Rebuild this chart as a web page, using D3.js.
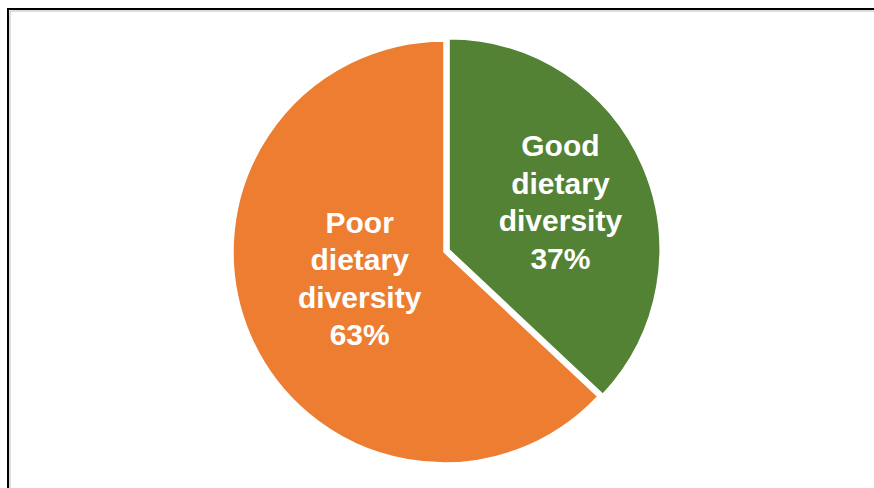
<!DOCTYPE html>
<html>
<head>
<meta charset="utf-8">
<script src="https://cdn.jsdelivr.net/npm/d3@7"></script>
<style>
  html, body { margin: 0; padding: 0; background: #fff; }
  svg { display: block; }
</style>
</head>
<body>
<div id="chart"></div>
<script>
// data
var categories = ["Good dietary diversity", "Poor dietary diversity"];
var labelLines = [["Good", "dietary", "diversity"], ["Poor", "dietary", "diversity"]];
var values = [37, 63];
var colors = ["#548235", "#ED7D31"];

var width = 874, height = 488;
var cx = 444, cy = 252, radius = 211;
var explode = [5.5, 0];
// small nudges, the label placement is not the plain centroid
var labelK = [0.575, 0.42];
var labelNudge = [[0, 0], [-3, -9]];

var svg = d3.select("#chart").append("svg")
  .attr("width", width)
  .attr("height", height);

// chart area border (runs off the right and bottom of the picture)
svg.append("path")
  .attr("d", "M8," + (height + 5) + "V9H" + (width + 5))
  .attr("fill", "none")
  .attr("stroke", "#000")
  .attr("stroke-width", 2);
svg.append("path")
  .attr("d", "M10," + (height + 5) + "V11H" + (width + 5))
  .attr("fill", "none")
  .attr("stroke", "#bbb")
  .attr("stroke-width", 1);

var pie = d3.pie().sort(null).value(function(d) { return d; });
var arcs = pie(values);

var arc = d3.arc().innerRadius(0).outerRadius(radius);

var g = svg.append("g").attr("transform", "translate(" + cx + "," + cy + ")");

function offset(d, i) {
  var mid = (d.startAngle + d.endAngle) / 2;
  return [Math.sin(mid) * explode[i], -Math.cos(mid) * explode[i]];
}

g.selectAll("path.slice")
  .data(arcs)
  .enter().append("path")
  .attr("class", "slice")
  .attr("transform", function(d, i) {
    var o = offset(d, i);
    return "translate(" + o[0] + "," + o[1] + ")";
  })
  .attr("d", arc)
  .attr("fill", function(d, i) { return colors[i]; })
  .attr("stroke", "#fff")
  .attr("stroke-width", 1.5)
  .attr("stroke-linejoin", "round");

var fontSize = 30, lineH = 37.5;

var label = g.selectAll("text.lbl")
  .data(arcs)
  .enter().append("text")
  .attr("class", "lbl")
  .attr("text-anchor", "middle")
  .attr("fill", "#fff")
  .attr("font-family", "Liberation Sans, Arial, sans-serif")
  .attr("font-weight", "bold")
  .attr("font-size", fontSize)
  .attr("transform", function(d, i) {
    var o = offset(d, i);
    var la = d3.arc().innerRadius(radius * labelK[i]).outerRadius(radius * labelK[i]);
    var c = la.centroid(d);
    return "translate(" + (c[0] + o[0] + labelNudge[i][0]) + "," + (c[1] + o[1] + labelNudge[i][1]) + ")";
  });

label.each(function(d, i) {
  var lines = labelLines[i].concat([d.data + "%"]);
  var t = d3.select(this);
  var top = -((lines.length - 1) * lineH) / 2 + fontSize * 0.36;
  lines.forEach(function(s, j) {
    t.append("tspan")
      .attr("x", 0)
      .attr("y", top + j * lineH)
      .text(s);
  });
});
</script>
</body>
</html>
